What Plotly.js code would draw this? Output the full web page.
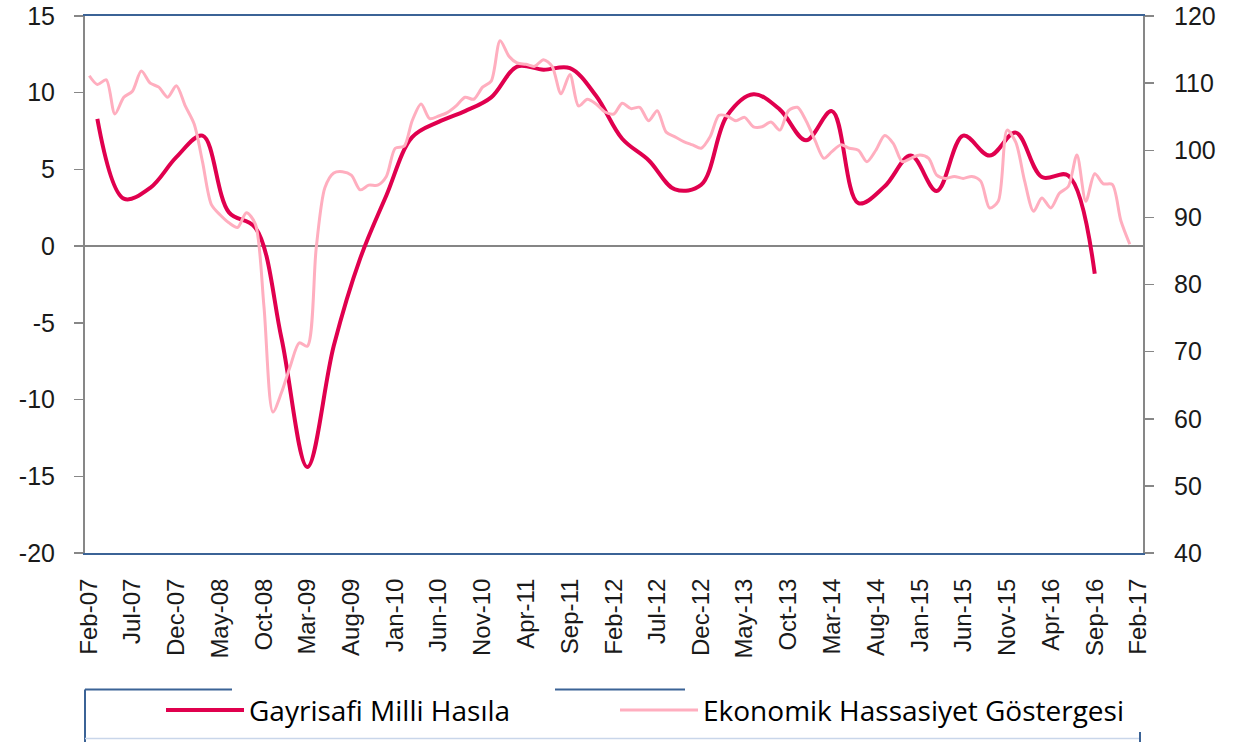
<!DOCTYPE html>
<html>
<head>
<meta charset="utf-8">
<script src="https://cdn.plot.ly/plotly-3.0.1.min.js"></script>
<style>
  html, body { margin: 0; padding: 0; background: #ffffff; }
  #chart { width: 1236px; height: 747px; }
</style>
</head>
<body>
<div id="chart"></div>
<script>
// ---- Data ----
const seriesNames = ['Gayrisafi Milli Hasıla', 'Ekonomik Hassasiyet Göstergesi'];

// Quarterly GDP growth (%), Q1-2007 .. Q3-2016, plotted at the last month of each quarter
const gdpStart = [2007, 3];   // year, month of first quarter point
const gdpValues = [
  8.3, 3.1, 3.8, 5.8, 7.2, 2.2, 1.2, -6.0, -14.4, -6.5,
  -0.8, 3.3, 7.1, 8.1, 8.8, 9.7, 11.7, 11.5, 11.6, 9.8,
  7.0, 5.6, 3.7, 4.0, 8.5, 9.9, 8.9, 6.9, 8.8, 2.8,
  3.9, 5.9, 3.6, 7.2, 5.9, 7.4, 4.5, 4.6, -1.8
];

// Monthly economic sentiment index, Feb-2007 .. Jan-2017 (right axis)
const ehgStart = [2007, 2];
const ehgValues = [
  111.1, 109.8, 110.5, 105.4, 107.9, 108.8, 111.8, 110.0, 109.4, 107.9,
  109.6, 106.6, 103.9, 98.3, 91.9, 90.4, 89.2, 88.5, 90.7, 89.0,
  76.7, 61.0, 63.9, 67.9, 71.3, 70.8, 85.5, 94.4, 96.6, 96.8,
  96.3, 94.1, 94.8, 94.8, 96.1, 100.3, 100.6, 104.4, 106.9, 104.7,
  105.1, 105.6, 106.6, 107.9, 107.6, 109.4, 110.3, 116.3, 114.0, 113.0,
  112.8, 112.5, 113.5, 112.5, 108.4, 111.3, 106.6, 107.6, 106.9, 105.7,
  105.4, 107.0, 106.2, 106.4, 104.4, 105.9, 102.7, 102.0, 101.3, 100.8,
  100.3, 102.0, 105.2, 105.1, 104.4, 104.9, 103.5, 103.5, 104.2, 103.0,
  105.9, 106.4, 104.4, 101.5, 98.8, 99.8, 100.8, 100.3, 100.0, 98.3,
  100.0, 102.2, 101.0, 98.3, 98.8, 99.3, 98.8, 96.3, 95.8, 96.1,
  95.8, 96.1, 95.4, 91.4, 92.4, 103.0, 101.2, 95.4, 90.9, 92.9,
  91.4, 93.6, 94.6, 99.3, 92.4, 96.5, 95.0, 94.9, 89.5, 86.0
];

// X tick labels (every 5 months) and their dates
const tickLabels = ['Feb-07','Jul-07','Dec-07','May-08','Oct-08','Mar-09','Aug-09','Jan-10','Jun-10','Nov-10',
  'Apr-11','Sep-11','Feb-12','Jul-12','Dec-12','May-13','Oct-13','Mar-14','Aug-14','Jan-15',
  'Jun-15','Nov-15','Apr-16','Sep-16','Feb-17'];
const tickDates = ['2007-02-01','2007-07-01','2007-12-01','2008-05-01','2008-10-01','2009-03-01','2009-08-01','2010-01-01','2010-06-01','2010-11-01',
  '2011-04-01','2011-09-01','2012-02-01','2012-07-01','2012-12-01','2013-05-01','2013-10-01','2014-03-01','2014-08-01','2015-01-01',
  '2015-06-01','2015-11-01','2016-04-01','2016-09-01','2017-02-01'];

const leftTicks = [-20, -15, -10, -5, 0, 5, 10, 15];
const leftTickText = ['-20', '-15', '-10', '-5', '0', '5', '10', '15'];
const rightTicks = [40, 50, 60, 70, 80, 90, 100, 110, 120];

// month date sequence helper (category positions)
function monthSeq(start, count, step) {
  const out = [];
  let y = start[0], m = start[1];
  for (let i = 0; i < count; i++) {
    out.push(y + '-' + String(m).padStart(2, '0') + '-01');
    m += step;
    while (m > 12) { m -= 12; y += 1; }
  }
  return out;
}
const gdpDates = monthSeq(gdpStart, gdpValues.length, 3);
const ehgDates = monthSeq(ehgStart, ehgValues.length, 1);

// ---- Layout geometry ----
const W = 1236, H = 747;
const L = 85, R = 93, T = 16, B = 188;
const pw = W - L - R, ph = H - T - B;
const px2x = p => (p - L) / pw;
const py2y = p => (H - B - p) / ph;

const blue = '#3b6396';
const axisGray = '#878787';

const traces = [
  {
    x: ehgDates, y: ehgValues, name: seriesNames[1], type: 'scatter', mode: 'lines',
    yaxis: 'y2', legend: 'legend2',
    line: { color: '#ffaebf', width: 3, shape: 'spline', smoothing: 0.8 },
    hoverinfo: 'skip'
  },
  {
    x: gdpDates, y: gdpValues, name: seriesNames[0], type: 'scatter', mode: 'lines',
    yaxis: 'y', legend: 'legend',
    line: { color: '#e0004e', width: 4, shape: 'spline', smoothing: 1 },
    hoverinfo: 'skip'
  }
];

const tickFont = { family: 'Liberation Sans, Arial, sans-serif', size: 25, color: '#1a1a1a' };
const legendFont = { family: 'Open Sans, sans-serif', size: 28, color: '#000000' };

const layout = {
  width: W, height: H,
  margin: { l: L, r: R, t: T, b: B, pad: 0 },
  paper_bgcolor: '#ffffff', plot_bgcolor: '#ffffff',
  showlegend: true,
  legend: {
    orientation: 'h', x: px2x(161), y: py2y(718), xanchor: 'left', yanchor: 'middle',
    font: legendFont, itemwidth: 78, bgcolor: 'rgba(0,0,0,0)'
  },
  legend2: {
    orientation: 'h', x: px2x(615), y: py2y(718), xanchor: 'left', yanchor: 'middle',
    font: legendFont, itemwidth: 78, bgcolor: 'rgba(0,0,0,0)'
  },
  xaxis: {
    type: 'date', range: ['2007-01-17', '2017-02-16'],
    tickmode: 'array', tickvals: tickDates, ticktext: tickLabels,
    tickangle: -90, tickfont: { family: 'Liberation Sans, Arial, sans-serif', size: 24, color: '#1a1a1a' },
    ticks: '', showgrid: false, zeroline: false,
    showline: true, linecolor: blue, linewidth: 2, mirror: true,
    ticklabelstandoff: 14, automargin: false, fixedrange: true
  },
  yaxis: {
    range: [-20, 15], tickmode: 'array', tickvals: leftTicks, ticktext: leftTickText,
    tickfont: tickFont, ticks: 'outside', ticklen: 9, tickcolor: axisGray, tickwidth: 1.5,
    showgrid: false, zeroline: true, zerolinecolor: '#858585', zerolinewidth: 2,
    showline: true, linecolor: axisGray, linewidth: 2,
    ticklabelstandoff: 14, automargin: false, fixedrange: true
  },
  yaxis2: {
    range: [40, 120], overlaying: 'y', side: 'right', tickmode: 'array', tickvals: rightTicks,
    tickfont: tickFont, ticks: 'outside', ticklen: 9, tickcolor: axisGray, tickwidth: 1.5,
    showgrid: false, zeroline: false,
    showline: true, linecolor: axisGray, linewidth: 2,
    ticklabelstandoff: 15, automargin: false, fixedrange: true
  },
  shapes: [
    // partial legend frame as seen in the reference
    { type: 'line', xref: 'paper', yref: 'paper', x0: px2x(85), x1: px2x(232), y0: py2y(697), y1: py2y(697), line: { color: blue, width: 2 } },
    { type: 'line', xref: 'paper', yref: 'paper', x0: px2x(555), x1: px2x(685), y0: py2y(697), y1: py2y(697), line: { color: blue, width: 2 } },
    { type: 'line', xref: 'paper', yref: 'paper', x0: px2x(85), x1: px2x(85), y0: py2y(697), y1: py2y(750), line: { color: blue, width: 2 } },
    { type: 'line', xref: 'paper', yref: 'paper', x0: px2x(85), x1: px2x(1140), y0: py2y(746.5), y1: py2y(746.5), line: { color: '#c9d6ea', width: 1.5 } },
    { type: 'line', xref: 'paper', yref: 'paper', x0: px2x(1140), x1: px2x(1140), y0: py2y(740), y1: py2y(750), line: { color: blue, width: 2 } }
  ]
};

Plotly.newPlot('chart', traces, layout, { staticPlot: true, displayModeBar: false });
</script>
</body>
</html>
